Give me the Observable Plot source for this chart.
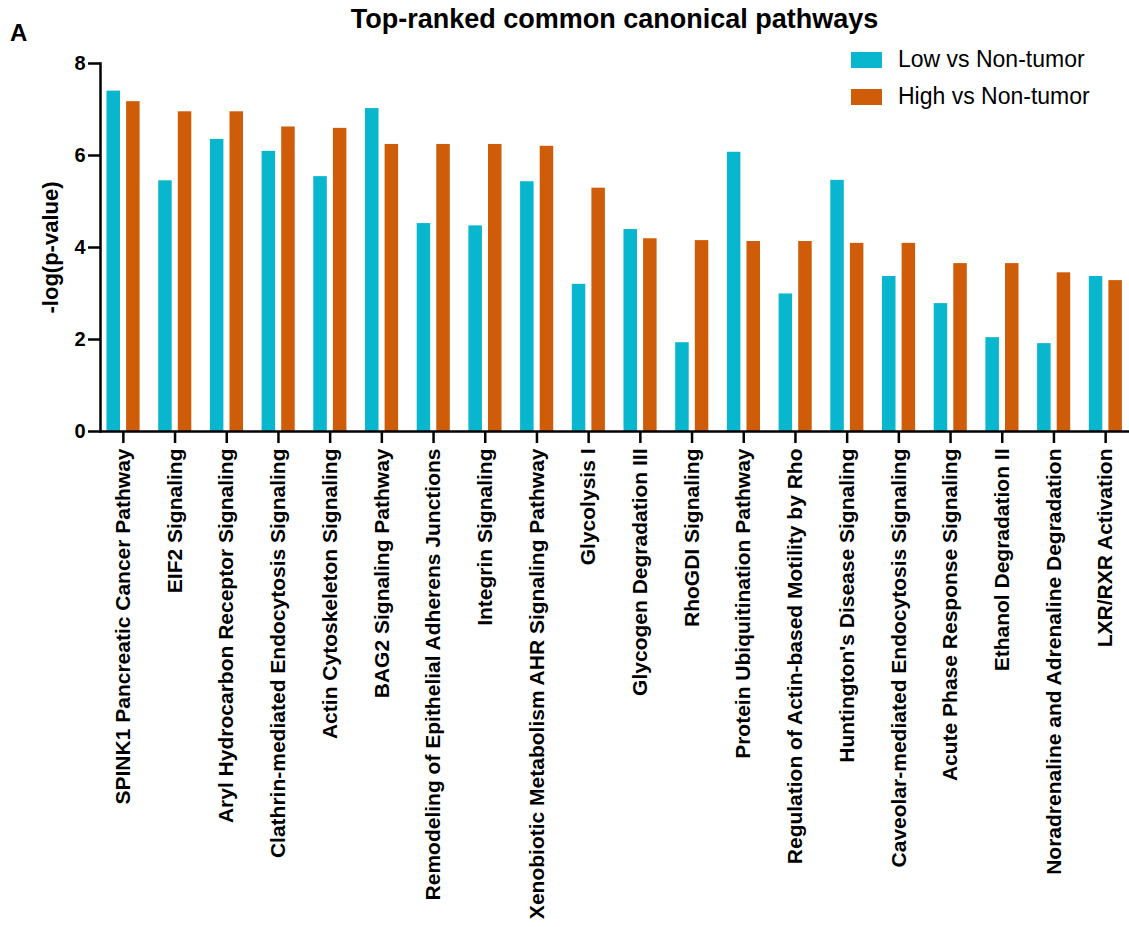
<!DOCTYPE html>
<html>
<head>
<meta charset="utf-8">
<script src="https://cdn.jsdelivr.net/npm/d3@7"></script>
<script src="https://cdn.jsdelivr.net/npm/@observablehq/plot@0.6"></script>
<style>
  html, body { margin: 0; padding: 0; background: #fff; }
  #wrap { position: relative; width: 1129px; height: 927px; font-family: "Liberation Sans", Arial, sans-serif; color: #000; overflow: hidden; }
  #chart { position: absolute; left: 0; top: 0; }
  .title { position: absolute; left: 0; width: 1229px; top: 4px; text-align: center; font-weight: bold; font-size: 27px; white-space: nowrap; }
  .panel { position: absolute; left: 10px; top: 19px; font-weight: bold; font-size: 24px; }
  .legend { position: absolute; left: 851px; top: 41px; font-size: 23px; }
  .legend .row { display: flex; align-items: center; height: 37px; }
  .legend .sw { width: 31px; height: 16px; margin-right: 16px; }
</style>
</head>
<body>
<div id="wrap">
  <div id="chart"></div>
  <div class="title">Top-ranked common canonical pathways</div>
  <div class="panel">A</div>
  <div class="legend" id="legend"></div>
</div>
<script>
const categories = [
  "SPINK1 Pancreatic Cancer Pathway",
  "EIF2 Signaling",
  "Aryl Hydrocarbon Receptor Signaling",
  "Clathrin-mediated Endocytosis Signaling",
  "Actin Cytoskeleton Signaling",
  "BAG2 Signaling Pathway",
  "Remodeling of Epithelial Adherens Junctions",
  "Integrin Signaling",
  "Xenobiotic Metabolism AHR Signaling Pathway",
  "Glycolysis I",
  "Glycogen Degradation III",
  "RhoGDI Signaling",
  "Protein Ubiquitination Pathway",
  "Regulation of Actin-based Motility by Rho",
  "Huntington's Disease Signaling",
  "Caveolar-mediated Endocytosis Signaling",
  "Acute Phase Response Signaling",
  "Ethanol Degradation II",
  "Noradrenaline and Adrenaline Degradation",
  "LXR/RXR Activation"
];
const lowVsNonTumor  = [7.40, 5.45, 6.35, 6.09, 5.54, 7.02, 4.52, 4.47, 5.43, 3.20, 4.39, 1.93, 6.07, 2.99, 5.46, 3.37, 2.78, 2.04, 1.91, 3.37];
const highVsNonTumor = [7.17, 6.95, 6.95, 6.62, 6.59, 6.24, 6.24, 6.24, 6.20, 5.29, 4.19, 4.15, 4.13, 4.13, 4.09, 4.09, 3.65, 3.65, 3.45, 3.28];
const seriesNames = ["Low vs Non-tumor", "High vs Non-tumor"];
const seriesColors = ["#08b6ce", "#cf5c09"];
const yTicks = [0, 2, 4, 6, 8];

const lowData = categories.map((c, i) => ({cat: c, value: lowVsNonTumor[i]}));
const highData = categories.map((c, i) => ({cat: c, value: highVsNonTumor[i]}));

const step = (1131 - 97) / categories.length;
const barW = 13.5;
const inset = (step - barW) / 2;

const chart = Plot.plot({
  width: 1129,
  height: 927,
  marginLeft: 100,
  marginRight: 0,
  marginTop: 63,
  marginBottom: 496,
  style: {fontFamily: "'Liberation Sans', Arial, sans-serif", color: "#000", background: "#fff"},
  x: {domain: categories, range: [97, 1131], padding: 0, round: false},
  y: {domain: [0, 8]},
  marks: [
    Plot.barY(lowData, {x: "cat", y: "value", fill: seriesColors[0], dx: -9.6, insetLeft: inset, insetRight: inset}),
    Plot.barY(highData, {x: "cat", y: "value", fill: seriesColors[1], dx: 10, insetLeft: inset, insetRight: inset}),
    Plot.axisY({ticks: yTicks, tickSize: 12, tickPadding: 3, strokeWidth: 2.5, fontSize: 20, fontWeight: "bold",
      label: "-log(p-value)", labelAnchor: "center", labelArrow: "none", labelOffset: 58}),
    Plot.axisX({tickRotate: -90, tickSize: 12, tickPadding: 5, strokeWidth: 2.5, fontSize: 21, fontWeight: "bold", label: null}),
    Plot.ruleY([0], {stroke: "#000", strokeWidth: 2.5}),
    Plot.frame({anchor: "left", stroke: "#000", strokeWidth: 2.5})
  ]
});
document.getElementById("chart").appendChild(chart);
chart.querySelectorAll("g[aria-label='y-axis label'] text, g[aria-label='y-axis label']").forEach(e => { e.setAttribute("font-weight", "bold"); e.setAttribute("font-size", "22"); });

const legend = document.getElementById("legend");
seriesNames.forEach((n, i) => {
  const row = document.createElement("div");
  row.className = "row";
  const sw = document.createElement("div");
  sw.className = "sw";
  sw.style.background = seriesColors[i];
  const t = document.createElement("span");
  t.textContent = n;
  row.appendChild(sw); row.appendChild(t);
  legend.appendChild(row);
});
</script>
</body>
</html>
